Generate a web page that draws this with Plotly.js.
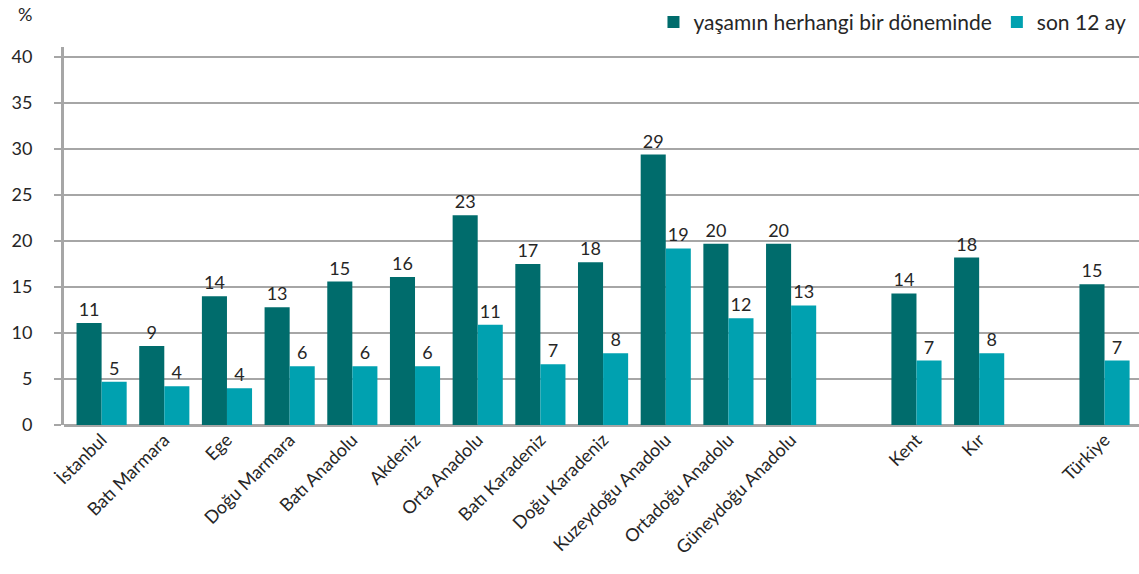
<!DOCTYPE html>
<html>
<head>
<meta charset="utf-8">
<script src="https://cdn.plot.ly/plotly-3.0.1.min.js"></script>
<style>
html,body{margin:0;padding:0;background:#fff;}
#chart{width:1139px;height:574px;}
</style>
</head>
<body>
<div id="chart"></div>
<script>
// Categories ('' = empty gap slot)
const categories = ['İstanbul','Batı Marmara','Ege','Doğu Marmara','Batı Anadolu','Akdeniz','Orta Anadolu','Batı Karadeniz','Doğu Karadeniz','Kuzeydoğu Anadolu','Ortadoğu Anadolu','Güneydoğu Anadolu','','Kent','Kır','','Türkiye'];
const lifetime   = [11.1, 8.6, 14.0, 12.8, 15.6, 16.1, 22.8, 17.5, 17.7, 29.4, 19.7, 19.7, null, 14.3, 18.2, null, 15.3];
const last12     = [4.7, 4.2, 4.0, 6.4, 6.4, 6.4, 10.9, 6.6, 7.8, 19.2, 11.6, 13.0, null, 7.0, 7.8, null, 7.0];
const lifetimeLabels = ['11','9','14','13','15','16','23','17','18','29','20','20','','14','18','','15'];
const last12Labels   = ['5','4','4','6','6','6','11','7','8','19','12','13','','7','8','','7'];
const seriesNames = ['yaşamın herhangi bir döneminde','son 12 ay'];
const yTicks = [0,5,10,15,20,25,30,35,40];

const xIdx = categories.map((c,i)=>i);
const tickIdx = xIdx.filter(i=>categories[i] !== '');
const tickTxt = tickIdx.map(i=>categories[i]);

const font = 'Lato, "Open Sans", sans-serif';

const common = {
  type:'bar', x:xIdx, textposition:'outside', cliponaxis:false,
  constraintext:'none',
  textfont:{family:font, size:18, color:'#262626'},
  hoverinfo:'skip'
};
const traces = [
  Object.assign({}, common, {name:seriesNames[0], y:lifetime, text:lifetimeLabels, marker:{color:'#006c6c'}}),
  Object.assign({}, common, {name:seriesNames[1], y:last12, text:last12Labels, marker:{color:'#00a1b0'}})
];

const layout = {
  width:1139, height:574,
  margin:{l:64, r:0, t:47, b:149, autoexpand:false},
  paper_bgcolor:'#fff', plot_bgcolor:'#fff',
  barmode:'group', bargap:0.2, bargroupgap:0,
  font:{family:font, color:'#262626'},
  showlegend:true,
  legend:{orientation:'h', x:0.993, xanchor:'right', y:1.065, yanchor:'middle',
          font:{family:font, size:21, color:'#262626'}, traceorder:'normal',
          itemwidth:30, bgcolor:'rgba(0,0,0,0)'},
  xaxis:{
    range:[-0.6, 16.55], tickmode:'array', tickvals:tickIdx, ticktext:tickTxt,
    tickangle:-45, tickfont:{family:font, size:18, color:'#262626'},
    showgrid:false, zeroline:false, showline:false, ticks:'', fixedrange:true,
    automargin:false
  },
  yaxis:{
    range:[0, 41.1], tickmode:'array', tickvals:yTicks,
    tickfont:{family:font, size:18, color:'#262626'},
    showgrid:true, gridcolor:'#a6a6a6', gridwidth:1.5,
    showline:true, linecolor:'#a6a6a6', linewidth:3,
    ticks:'outside', ticklen:7, tickcolor:'#a6a6a6', tickwidth:1.5,
    ticklabelstandoff:18,
    zeroline:true, zerolinecolor:'#a6a6a6', zerolinewidth:3, fixedrange:true,
    automargin:false
  },
  annotations:[
    {text:'%', xref:'paper', yref:'paper', x:-0.036, y:1.087, xanchor:'center', yanchor:'middle',
     showarrow:false, font:{family:font, size:18, color:'#262626'}}
  ]
};

Plotly.newPlot('chart', traces, layout, {staticPlot:true, displayModeBar:false});
</script>
</body>
</html>
